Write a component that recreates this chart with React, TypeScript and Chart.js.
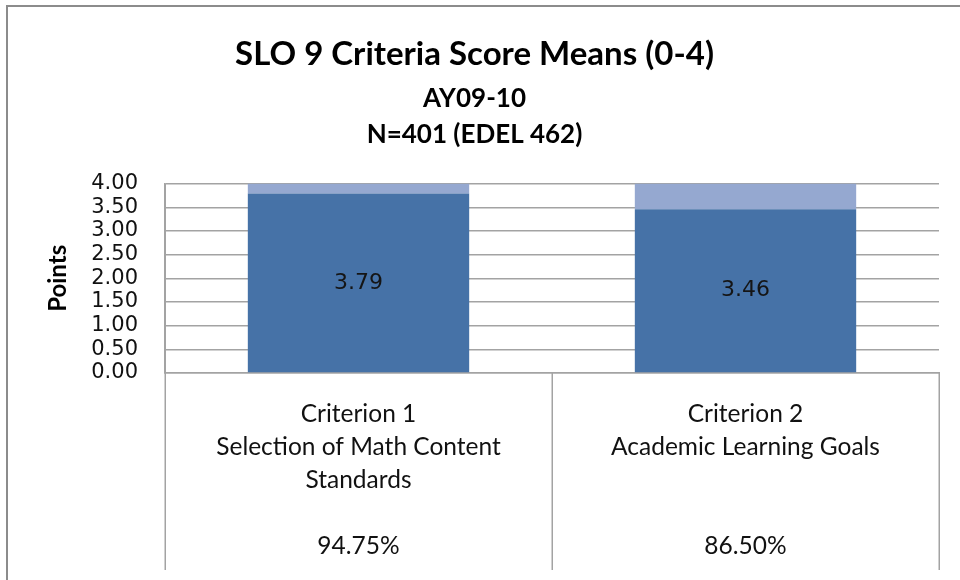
import { useEffect, useRef } from "react";
import { Chart, registerables } from "chart.js";

Chart.register(...registerables);

const titleText = "SLO 9 Criteria Score Means (0-4)";
const subtitleLines = ["AY09-10", "N=401 (EDEL 462)"];
const criterionNames = ["Criterion 1", "Criterion 2"];
const criterionDescriptions = [
  ["Selection of Math Content", "Standards"],
  ["Academic Learning Goals", ""],
];
const percentLabels = ["94.75%", "86.50%"];
const meanScores = [3.79, 3.46];
const remainderToMax = [0.21, 0.54];
const scoreLabels = ["3.79", "3.46"];
const yMin = 0;
const yMax = 4;
const yStep = 0.5;
const yAxisTitle = "Points";

const DARK = "#4672A7";
const LIGHT = "#95A8D0";
const GRID = "#A3A3A3";
const UI_FONT = "Lato, 'Open Sans', 'DejaVu Sans', sans-serif";
const TICK_FONT = "'DejaVu Sans', Lato, sans-serif";

const labels = criterionNames.map((name, i) => [
  name,
  criterionDescriptions[i][0],
  criterionDescriptions[i][1],
  "",
  percentLabels[i],
]);

const framePlugin = {
  id: "frame",
  beforeDraw(chart: any) {
    const { ctx, width, height } = chart;
    ctx.save();
    ctx.fillStyle = "#ffffff";
    ctx.fillRect(0, 0, width, height);
    ctx.strokeStyle = "#8C8C8C";
    ctx.lineWidth = 2;
    ctx.beginPath();
    ctx.moveTo(7, height);
    ctx.lineTo(7, 6);
    ctx.lineTo(width, 6);
    ctx.stroke();
    ctx.restore();
  },
};

const boundaryPlugin = {
  id: "categoryBoundaries",
  afterDraw(chart: any) {
    const { ctx, chartArea } = chart;
    const x = chart.scales.x;
    ctx.save();
    ctx.strokeStyle = GRID;
    ctx.lineWidth = 1.5;
    for (let i = 0; i <= labels.length; i++) {
      const px = Math.round(x.getPixelForValue(i - 0.5)) + 0.25;
      ctx.beginPath();
      ctx.moveTo(px, i === 0 ? chartArea.top : chartArea.bottom);
      ctx.lineTo(px, 570);
      ctx.stroke();
    }
    ctx.restore();
  },
};

const valueLabelPlugin = {
  id: "valueLabels",
  afterDatasetsDraw(chart: any) {
    const { ctx } = chart;
    const meta = chart.getDatasetMeta(0);
    ctx.save();
    ctx.fillStyle = "#151515";
    ctx.font = `22px ${TICK_FONT}`;
    ctx.textAlign = "center";
    ctx.textBaseline = "middle";
    meta.data.forEach((bar: any, i: number) => {
      const cy = (bar.y + bar.base) / 2;
      ctx.fillText(scoreLabels[i], bar.x, cy);
    });
    ctx.restore();
  },
};

export default function App() {
  const ref = useRef<HTMLCanvasElement>(null);

  useEffect(() => {
    const chart = new Chart(ref.current!, {
      type: "bar",
      data: {
        labels,
        datasets: [
          {
            label: "Mean score",
            data: meanScores,
            backgroundColor: DARK,
            borderWidth: 0,
            barPercentage: 0.572,
            categoryPercentage: 1,
          },
          {
            label: "Remaining to 4.00",
            data: remainderToMax,
            backgroundColor: LIGHT,
            borderWidth: 0,
            barPercentage: 0.572,
            categoryPercentage: 1,
          },
        ],
      },
      options: {
        responsive: false,
        animation: false,
        layout: { padding: { left: 10, right: 21, top: 0, bottom: 0 } },
        plugins: {
          legend: { display: false },
          tooltip: { enabled: false },
          title: {
            display: true,
            text: titleText,
            color: "#000",
            font: { family: UI_FONT, size: 33, weight: "bold", lineHeight: 1.2 },
            padding: { top: 35, bottom: 0 },
          },
          subtitle: {
            display: true,
            text: subtitleLines,
            color: "#000",
            font: { family: UI_FONT, size: 26, weight: "bold", lineHeight: 36 / 26 },
            padding: { top: 6, bottom: 31 },
          },
        },
        scales: {
          x: {
            stacked: true,
            offset: true,
            grid: { display: false, drawTicks: false },
            border: { display: true, color: GRID, width: 1.5 },
            ticks: {
              color: "#111",
              autoSkip: false,
              maxRotation: 0,
              minRotation: 0,
              padding: 25,
              font: { family: UI_FONT, size: 24.5, lineHeight: 33 / 24.5 },
            },
            afterFit(scale: any) {
              scale.height = 207;
            },
          },
          y: {
            stacked: true,
            min: yMin,
            max: yMax,
            grid: { color: GRID, lineWidth: 1.5, drawTicks: false },
            border: { display: true, color: GRID, width: 1.5 },
            ticks: {
              stepSize: yStep,
              autoSkip: false,
              color: "#111",
              padding: 27,
              font: { family: TICK_FONT, size: 21, lineHeight: 1 },
              callback: (v: any) => Number(v).toFixed(2),
            },
            title: {
              display: true,
              text: yAxisTitle,
              color: "#000",
              font: { family: UI_FONT, size: 24, weight: "bold", lineHeight: 1.2 },
              padding: { top: 34, bottom: 0 },
            },
            afterFit(scale: any) {
              scale.width = 155;
            },
          },
        },
      },
      plugins: [framePlugin, boundaryPlugin, valueLabelPlugin],
    });
    return () => chart.destroy();
  }, []);

  return (
    <div style={{ position: "fixed", left: 0, top: 0, width: 960, height: 580, background: "#fff" }}>
      <canvas ref={ref} width={960} height={580} style={{ display: "block" }} />
    </div>
  );
}
